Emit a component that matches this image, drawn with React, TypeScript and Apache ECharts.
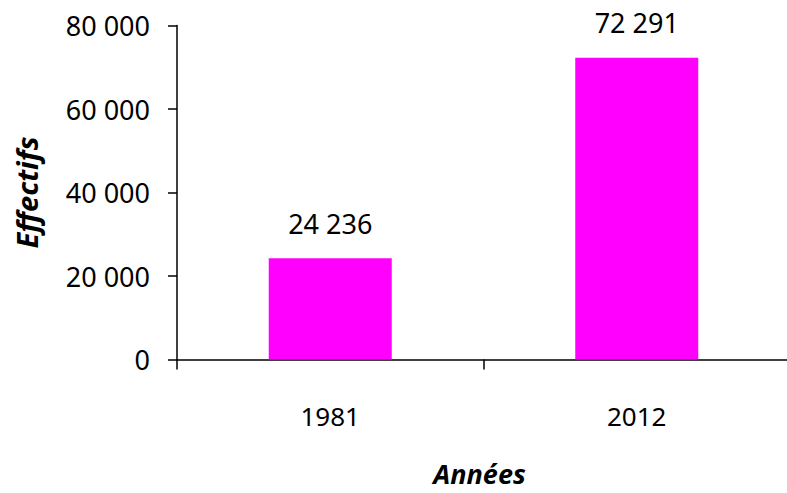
import React, { useEffect, useRef } from "react";
import * as echarts from "echarts";

const categories = ["1981", "2012"];
const effectifs = [24236, 72291];
const yTicks = [0, 20000, 40000, 60000, 80000];
const yAxisTitle = "Effectifs";
const xAxisTitle = "Années";

const FONT = "'Noto Sans', 'Open Sans', sans-serif";

function fmt(v: number): string {
  return String(v).replace(/\B(?=(\d{3})+(?!\d))/g, " ");
}

export default function App() {
  const ref = useRef<HTMLDivElement>(null);
  useEffect(() => {
    if (!ref.current) return;
    const chart = echarts.init(ref.current, null, { renderer: "svg" });
    chart.setOption({
      animation: false,
      backgroundColor: "#ffffff",
      grid: {
        left: 177,
        width: 613,
        top: 25.5,
        height: 334,
        containLabel: false,
        outerBoundsMode: "none",
      },
      xAxis: {
        type: "category",
        data: categories,
        name: xAxisTitle,
        nameLocation: "middle",
        nameGap: 114,
        nameTextStyle: {
          fontFamily: FONT,
          fontSize: 27,
          fontWeight: "bold",
          fontStyle: "italic",
          color: "#000",
          verticalAlign: "middle",
          padding: [0, 8, 0, 0],
        },
        axisLine: { show: true, lineStyle: { color: "#000", width: 1.5 } },
        axisTick: { show: true, length: 10, inside: false, lineStyle: { color: "#000", width: 1.5 } },
        axisLabel: {
          fontFamily: FONT,
          fontSize: 26,
          color: "#000",
          margin: 56,
          verticalAlign: "middle",
        },
        splitLine: { show: false },
      },
      yAxis: {
        type: "value",
        min: yTicks[0],
        max: yTicks[yTicks.length - 1],
        interval: yTicks[1] - yTicks[0],
        name: yAxisTitle,
        nameLocation: "middle",
        nameRotate: 90,
        nameGap: 151,
        nameTextStyle: {
          fontFamily: FONT,
          fontSize: 29,
          fontWeight: "bold",
          fontStyle: "italic",
          color: "#000",
          verticalAlign: "middle",
        },
        axisLine: { show: true, lineStyle: { color: "#000", width: 1.5 } },
        axisTick: { show: true, length: 9, inside: false, lineStyle: { color: "#000", width: 1.5 } },
        axisLabel: {
          fontFamily: FONT,
          fontSize: 27,
          color: "#000",
          margin: 27,
          formatter: (v: number) => fmt(v),
        },
        splitLine: { show: false },
      },
      series: [
        {
          type: "bar",
          data: effectifs,
          barWidth: 123,
          itemStyle: { color: "#FF00FF" },
          label: {
            show: true,
            position: "top",
            distance: 35,
            verticalAlign: "middle",
            fontFamily: FONT,
            fontSize: 27,
            color: "#000",
            formatter: (p: any) => fmt(p.value),
          },
        },
      ],
    });
    return () => chart.dispose();
  }, []);
  return (
    <div
      ref={ref}
      style={{ position: "fixed", left: 0, top: 0, width: 787, height: 493 }}
    />
  );
}
